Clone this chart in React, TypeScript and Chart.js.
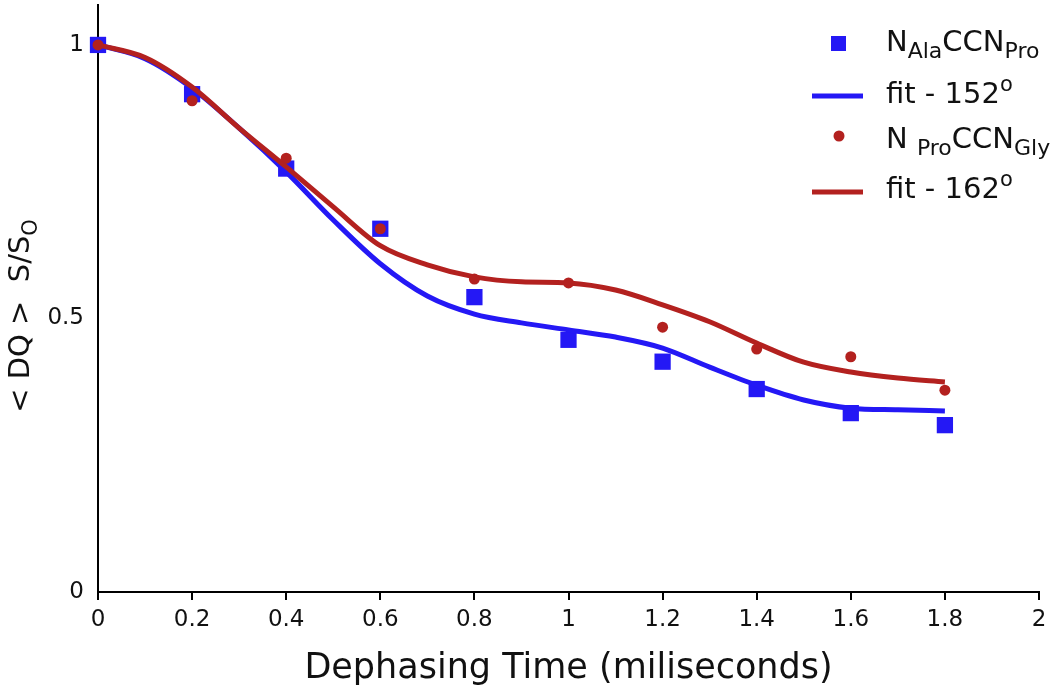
import React, { useEffect, useRef } from "react";
import { Chart, registerables } from "chart.js";

Chart.register(...registerables);

const pointTimes = [0, 0.2, 0.4, 0.6, 0.8, 1.0, 1.2, 1.4, 1.6, 1.8];
const alaProValues = [1.0, 0.91, 0.774, 0.664, 0.539, 0.461, 0.421, 0.371, 0.327, 0.305];
const proGlyValues = [1.0, 0.898, 0.793, 0.664, 0.572, 0.565, 0.484, 0.444, 0.43, 0.369];

const fitTimes = [0, 0.1, 0.2, 0.3, 0.4, 0.5, 0.6, 0.7, 0.8, 0.9, 1.0, 1.1, 1.2, 1.3, 1.4, 1.5, 1.6, 1.7, 1.8];
const fit152Values = [1.0, 0.975, 0.921, 0.848, 0.768, 0.68, 0.6, 0.541, 0.508, 0.492, 0.479, 0.466, 0.446, 0.411, 0.378, 0.351, 0.336, 0.333, 0.331];
const fit162Values = [1.0, 0.977, 0.923, 0.848, 0.777, 0.704, 0.633, 0.598, 0.576, 0.567, 0.565, 0.552, 0.525, 0.494, 0.455, 0.42, 0.402, 0.391, 0.384];

const yTickValues = [0, 0.5, 1];

const BLUE = "#2418f5";
const RED = "#b3211f";
const FONT = "'DejaVu Sans', 'Liberation Sans', Arial, sans-serif";

function toXY(xs: number[], ys: number[]) {
  return xs.map((x, i) => ({ x, y: ys[i] }));
}

function drawRich(
  ctx: CanvasRenderingContext2D,
  parts: { t: string; dy?: number; size?: number }[],
  x: number,
  y: number,
  base: number
) {
  let cx = x;
  for (const p of parts) {
    const s = p.size ?? base;
    ctx.font = `${s}px ${FONT}`;
    ctx.fillText(p.t, cx, y + (p.dy ?? 0));
    cx += ctx.measureText(p.t).width;
  }
  return cx;
}

const overlayPlugin = {
  id: "overlay",
  afterDraw(chart: any) {
    const ctx: CanvasRenderingContext2D = chart.ctx;
    const area = chart.chartArea;
    ctx.save();
    ctx.fillStyle = "#111";
    ctx.textBaseline = "alphabetic";
    ctx.textAlign = "left";

    // X title
    ctx.font = `35px ${FONT}`;
    const xt = "Dephasing Time (miliseconds)";
    const w = ctx.measureText(xt).width;
    ctx.fillText(xt, (area.left + area.right) / 2 - w / 2, 678);

    // Y title (rotated)
    ctx.save();
    ctx.translate(29, 316);
    ctx.rotate(-Math.PI / 2);
    const yparts = [
      { t: "< DQ >  S/S" },
      { t: "O", dy: 8, size: 21 },
    ];
    ctx.font = `29px ${FONT}`;
    let tw = ctx.measureText(yparts[0].t).width;
    ctx.font = `21px ${FONT}`;
    tw += ctx.measureText("O").width;
    drawRich(ctx, yparts, -tw / 2, 0, 29);
    ctx.restore();

    // Legend
    const tx = 886;
    ctx.fillStyle = BLUE;
    ctx.fillRect(831, 36, 15, 15);
    ctx.fillStyle = "#111";
    drawRich(
      ctx,
      [
        { t: "N" },
        { t: "Ala", dy: 7, size: 22 },
        { t: "CCN" },
        { t: "Pro", dy: 7, size: 22 },
      ],
      tx,
      51,
      29
    );
    ctx.strokeStyle = BLUE;
    ctx.lineWidth = 5;
    ctx.beginPath();
    ctx.moveTo(812, 96);
    ctx.lineTo(863, 96);
    ctx.stroke();
    drawRich(ctx, [{ t: "fit - 152" }, { t: "o", dy: -12, size: 21 }], tx, 103, 29);
    ctx.fillStyle = RED;
    ctx.beginPath();
    ctx.arc(839, 136, 5.5, 0, Math.PI * 2);
    ctx.fill();
    ctx.fillStyle = "#111";
    drawRich(
      ctx,
      [
        { t: "N " },
        { t: "Pro", dy: 7, size: 22 },
        { t: "CCN" },
        { t: "Gly", dy: 7, size: 22 },
      ],
      tx,
      148,
      29
    );
    ctx.strokeStyle = RED;
    ctx.lineWidth = 5;
    ctx.beginPath();
    ctx.moveTo(812, 192);
    ctx.lineTo(863, 192);
    ctx.stroke();
    drawRich(ctx, [{ t: "fit - 162" }, { t: "o", dy: -12, size: 21 }], tx, 198, 29);

    ctx.restore();
  },
};

export default function App() {
  const ref = useRef<HTMLCanvasElement | null>(null);

  useEffect(() => {
    if (!ref.current) return;
    const chart = new Chart(ref.current, {
      type: "scatter",
      data: {
        datasets: [
          {
            label: "NAlaCCNPro",
            data: toXY(pointTimes, alaProValues),
            pointStyle: "rect",
            pointRadius: 11.5,
            backgroundColor: BLUE,
            borderColor: BLUE,
            borderWidth: 0,
            showLine: false,
            clip: false,
            order: 4,
          },
          {
            label: "fit - 152",
            data: toXY(fitTimes, fit152Values),
            showLine: true,
            pointRadius: 0,
            borderColor: BLUE,
            borderWidth: 5,
            cubicInterpolationMode: "monotone",
            clip: false,
            order: 3,
          },
          {
            label: "fit - 162",
            data: toXY(fitTimes, fit162Values),
            showLine: true,
            pointRadius: 0,
            borderColor: RED,
            borderWidth: 5,
            cubicInterpolationMode: "monotone",
            clip: false,
            order: 2,
          },
          {
            label: "NProCCNGly",
            data: toXY(pointTimes, proGlyValues),
            pointStyle: "circle",
            pointRadius: 5.5,
            backgroundColor: RED,
            borderColor: RED,
            borderWidth: 0,
            showLine: false,
            clip: false,
            order: 1,
          },
        ],
      },
      options: {
        animation: false,
        responsive: false,
        layout: { autoPadding: false, padding: { top: 5, right: 11, left: 0, bottom: 0 } },
        plugins: {
          legend: { display: false },
          tooltip: { enabled: false },
          title: { display: false },
        },
        scales: {
          x: {
            type: "linear",
            min: 0,
            max: 2,
            border: { color: "#000", width: 2 },
            grid: {
              drawOnChartArea: false,
              drawTicks: true,
              tickLength: 8,
              color: "#000",
              lineWidth: 2,
            },
            ticks: {
              stepSize: 0.2,
              padding: 6,
              color: "#111",
              font: { family: FONT, size: 23 },
              maxRotation: 0,
              callback: (v: any) => String(Math.round(Number(v) * 10) / 10),
            },
            afterFit: (s: any) => {
              s.height = 98;
              s.paddingLeft = 0;
              s.paddingRight = 0;
            },
          },
          y: {
            type: "linear",
            min: 0,
            max: 1.073,
            border: { color: "#000", width: 2 },
            grid: { display: false, drawTicks: false, tickLength: 0 },
            afterBuildTicks: (s: any) => {
              s.ticks = yTickValues.map((v) => ({ value: v }));
            },
            ticks: {
              padding: 14,
              color: "#111",
              font: { family: FONT, size: 23 },
              callback: (v: any) => String(v),
            },
            afterFit: (s: any) => {
              s.width = 98;
              s.paddingTop = 0;
              s.paddingBottom = 0;
            },
          },
        },
      },
      plugins: [overlayPlugin],
    } as any);
    return () => chart.destroy();
  }, []);

  return (
    <div style={{ position: "absolute", left: 0, top: 0, width: 1050, height: 690, background: "#fff" }}>
      <canvas ref={ref} width={1050} height={690} style={{ display: "block", width: 1050, height: 690 }} />
    </div>
  );
}
